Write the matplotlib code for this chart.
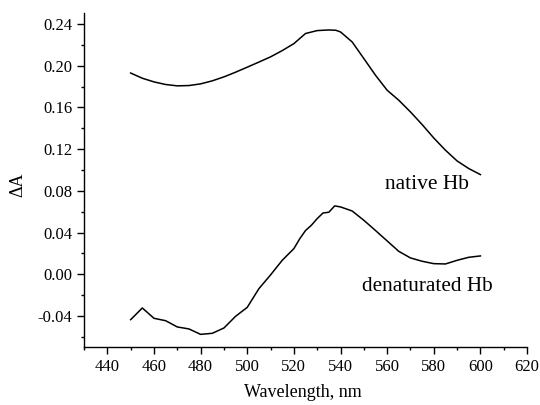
import matplotlib
matplotlib.use("Agg")
import matplotlib.pyplot as plt
from matplotlib.ticker import MultipleLocator, FormatStrFormatter

plt.rcParams['font.family'] = ['Liberation Serif', 'DejaVu Serif']

# native Hb difference spectrum
wl_native = [450, 455, 460, 465, 470, 475, 480, 485, 490, 495, 500, 505, 510,
             515, 520, 525, 530, 535, 538, 540, 545, 550, 555, 560, 565, 570,
             575, 580, 585, 590, 595, 600]
dA_native = [0.193, 0.188, 0.1845, 0.182, 0.1807, 0.181, 0.1826, 0.1855, 0.1893,
             0.1938, 0.1986, 0.2035, 0.2085, 0.2145, 0.2212, 0.2309, 0.2337,
             0.2343, 0.234, 0.2324, 0.2228, 0.2069, 0.1909, 0.1765, 0.1669,
             0.1557, 0.1436, 0.1307, 0.119, 0.1087, 0.1014, 0.0956]

# denaturated Hb difference spectrum
wl_denat = [450, 455, 460, 465, 470, 475, 480, 485, 490, 495, 500, 505, 510,
            515, 520, 522.5, 525, 527.5, 530, 532.5, 535, 537.5, 540, 545, 550,
            555, 560, 565, 570, 575, 580, 585, 590, 595, 600]
dA_denat = [-0.0435, -0.0323, -0.0422, -0.0445, -0.0505, -0.0524, -0.0576,
            -0.0566, -0.0515, -0.0403, -0.0317, -0.0138, -0.0006, 0.0134,
            0.0246, 0.034, 0.042, 0.047, 0.0534, 0.0588, 0.0595, 0.0656,
            0.0646, 0.0607, 0.0518, 0.042, 0.032, 0.022, 0.0157, 0.0125,
            0.0102, 0.0099, 0.0134, 0.0163, 0.0176]

fig = plt.figure(figsize=(5.4, 4.05), dpi=100)
ax = fig.add_axes([0.1556, 0.1425, 0.8204, 0.8255])

ax.plot(wl_native, dA_native, color='black', lw=1.1)
ax.plot(wl_denat, dA_denat, color='black', lw=1.1)

ax.text(559, 0.0822, 'native Hb', fontsize=15.5, va='baseline')
ax.text(549.4, -0.016, 'denaturated Hb', fontsize=15.3, va='baseline')

ax.set_xlim(430, 620)
ax.set_ylim(-0.07, 0.2506)
ax.xaxis.set_major_locator(MultipleLocator(20))
ax.xaxis.set_minor_locator(MultipleLocator(10))
ax.yaxis.set_major_locator(MultipleLocator(0.04))
ax.yaxis.set_minor_locator(MultipleLocator(0.02))
ax.yaxis.set_major_formatter(FormatStrFormatter('%.2f'))

for s in ['top', 'right']:
    ax.spines[s].set_visible(False)
for s in ['left', 'bottom']:
    ax.spines[s].set_linewidth(1.0)

ax.tick_params(which='major', direction='out', length=5, width=1.0, labelsize=12)
ax.tick_params(which='minor', direction='out', length=2.5, width=1.0)

ax.set_xlabel('Wavelength, nm', fontsize=13)
ax.set_ylabel('ΔA', fontsize=13)
ax.xaxis.set_label_coords(0.494, -0.11)
ax.yaxis.set_label_coords(-0.13, 0.485)

fig.savefig('out.png', dpi=100)
